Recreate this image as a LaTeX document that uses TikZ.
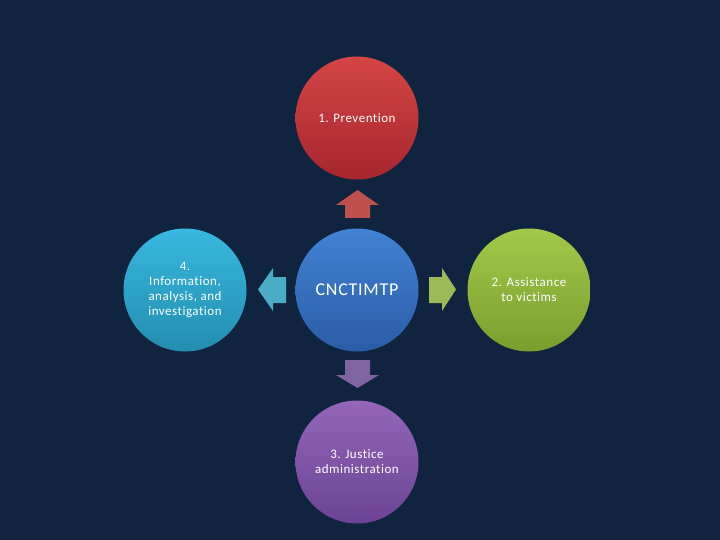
\documentclass[tikz,border=0pt]{standalone}
\usepackage{fontspec}
\setmainfont{Carlito}[LetterSpace=4,Ligatures=NoCommon]
\definecolor{bg}{HTML}{10243F}
\definecolor{redT}{HTML}{D44545}\definecolor{redB}{HTML}{A6262E}
\definecolor{bluT}{HTML}{4282D4}\definecolor{bluB}{HTML}{2B5CA6}
\definecolor{cyaT}{HTML}{38B8E0}\definecolor{cyaB}{HTML}{238DAE}
\definecolor{grnT}{HTML}{A2C94A}\definecolor{grnB}{HTML}{7A9E2E}
\definecolor{purT}{HTML}{9366BA}\definecolor{purB}{HTML}{6C4394}
\definecolor{arRed}{HTML}{C0504D}
\definecolor{arCya}{HTML}{4BACC6}
\definecolor{arGrn}{HTML}{9BBB59}
\definecolor{arPur}{HTML}{8064A2}
\begin{document}
\begin{tikzpicture}[x=1pt,y=-1pt,
  ball/.style={circle,minimum size=123pt,inner sep=0pt,text=white,align=center,font=\fontsize{13}{15}\selectfont}]
\fill[bg] (0,0) rectangle (720,540);
\useasboundingbox (0,0) rectangle (720,540);
\node[ball,top color=redT,bottom color=redB] (prev) at (357,118) {1. Prevention};
\node[ball,top color=bluT,bottom color=bluB,font=\fontsize{18}{20}\selectfont] (core) at (357,290) {CNCTIMTP};
\node[ball,top color=cyaT,bottom color=cyaB] (info) at (185,290) {4.\\Information,\\analysis, and\\investigation};
\node[ball,top color=grnT,bottom color=grnB] (assist) at (529,290) {2. Assistance\\to victims};
\node[ball,top color=purT,bottom color=purB] (just) at (357,462) {3. Justice\\administration};
% block arrows
\fill[arRed] (345,218) -- (345,205) -- (336,205) -- (357.5,190) -- (379,205) -- (370,205) -- (370,218) -- cycle;
\fill[arPur] (345,360) -- (345,375) -- (336,375) -- (357.5,388) -- (379,375) -- (370,375) -- (370,360) -- cycle;
\fill[arCya] (286,277) -- (273,277) -- (273,268) -- (258,289.5) -- (273,311) -- (273,303) -- (286,303) -- cycle;
\fill[arGrn] (429,277) -- (442,277) -- (442,268) -- (456,289.5) -- (442,311) -- (442,303) -- (429,303) -- cycle;
\end{tikzpicture}
\end{document}
